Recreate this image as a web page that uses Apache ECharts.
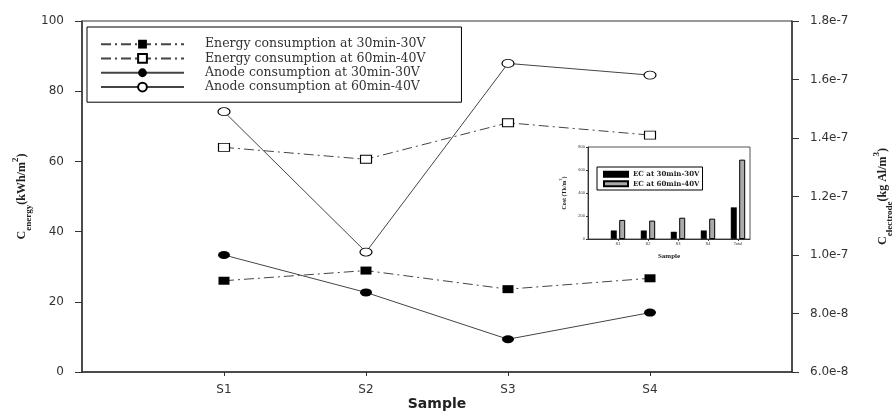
<!DOCTYPE html>
<html>
  <head>
    <meta charset="utf-8">
    <script src="https://cdn.jsdelivr.net/npm/echarts@6.0.0/dist/echarts.min.js"></script>
    <style>
      html, body { margin: 0; padding: 0; background: #fff; }
      #chart { width: 893px; height: 413px; }
    </style>
  </head>
  <body>
    <div id="chart"></div>
    <script>
      // main chart data
      const categories = ['S1', 'S2', 'S3', 'S4'];
      const energy30 = [26.0, 28.9, 23.6, 26.7];      // kWh/m2, left axis
      const energy60 = [64.0, 60.6, 71.0, 67.5];
      const anode30 = [1.00e-7, 8.72e-8, 7.12e-8, 8.03e-8]; // kg Al/m3, right axis
      const anode60 = [1.49e-7, 1.01e-7, 1.655e-7, 1.615e-7];
      // inset bar chart data
      const insetCats = ['S1', 'S2', 'S3', 'S4', 'Total'];
      const ec30 = [74, 74, 63, 74, 275];
      const ec60 = [166, 160, 185, 177, 690];

      const names = [
        'Energy consumption at 30min-30V',
        'Energy consumption at 60min-40V',
        'Anode consumption at 30min-30V',
        'Anode consumption at 60min-40V'
      ];
      const pos = arr => arr.map((v, i) => [i + 1, v]);
      const dashDot = [10, 4, 2, 4];
      const axisColor = '#333';
      const labelFont = { color: '#333', fontFamily: 'DejaVu Sans', fontSize: 12 };
      const serifBold = { fontFamily: 'Liberation Serif', fontWeight: 'bold', color: '#222' };

      const chart = echarts.init(document.getElementById('chart'));
      chart.setOption({
        animation: false,
        grid: [
          { left: 82, right: 101, top: 21, bottom: 41, containLabel: false, outerBoundsMode: 'none',
            show: true, borderColor: axisColor, borderWidth: 1 },
          { left: 588, right: 143, top: 147, bottom: 174, containLabel: false, outerBoundsMode: 'none',
            show: true, borderColor: '#555', borderWidth: 1 }
        ],
        legend: [{
          data: names,
          orient: 'vertical',
          left: 87,
          top: 27,
          padding: [10, 36, 8, 13],
          itemGap: 0,
          itemWidth: 83,
          itemHeight: 11,
          borderColor: '#000',
          borderWidth: 1,
          textStyle: { fontFamily: 'DejaVu Serif', fontSize: 12.5, color: '#333', lineHeight: 14.3, padding: [0, 0, 0, 16] }
        }, {
          data: ['EC at 30min-30V', 'EC at 60min-40V'],
          orient: 'vertical',
          left: 597,
          top: 167,
          padding: [3, 3, 2, 6],
          itemGap: 1,
          itemWidth: 24,
          itemHeight: 5,
          icon: 'rect',
          borderColor: '#000',
          borderWidth: 1,
          textStyle: { fontFamily: 'DejaVu Serif', fontWeight: 'bold', color: '#222', fontSize: 7, lineHeight: 8.5 }
        }],
        xAxis: [{
          gridIndex: 0,
          type: 'value',
          min: 0,
          max: 5,
          splitLine: { show: false },
          axisLine: { lineStyle: { color: axisColor, width: 1.5 } },
          axisTick: { customValues: [1, 2, 3, 4], length: 4, lineStyle: { color: axisColor } },
          axisLabel: Object.assign({}, labelFont, {
            customValues: [1, 2, 3, 4],
            margin: 12,
            formatter: v => categories[Math.round(v) - 1] || ''
          }),
          name: 'Sample',
          nameLocation: 'middle',
          nameMoveOverlap: false,
          nameGap: 25,
          nameTextStyle: { fontFamily: 'DejaVu Sans', fontWeight: 'bold', fontSize: 14, color: '#222' }
        }, {
          gridIndex: 1,
          type: 'value',
          min: 0,
          max: 5.4,
          splitLine: { show: false },
          axisLine: { lineStyle: { color: '#333', width: 1 } },
          axisTick: { customValues: [1, 2, 3, 4, 5], length: 2, lineStyle: { color: '#333' } },
          axisLabel: {
            customValues: [1, 2, 3, 4, 5],
            fontSize: 4,
            color: '#333',
            margin: 3,
            formatter: v => insetCats[Math.round(v) - 1] || ''
          },
          name: 'Sample',
          nameLocation: 'middle',
          nameMoveOverlap: false,
          nameGap: 14,
          nameTextStyle: Object.assign({}, serifBold, { fontSize: 7 })
        }],
        yAxis: [{
          gridIndex: 0,
          type: 'value',
          min: 0,
          max: 100,
          interval: 20,
          splitLine: { show: false },
          axisLine: { show: true, lineStyle: { color: axisColor, width: 1.5 } },
          axisTick: { show: true, length: 7, lineStyle: { color: axisColor } },
          axisLabel: Object.assign({}, labelFont, { margin: 18 }),
          name: '{c|C}{sub|energy}{c|(kWh/m}{sup|2}{c|)}',
          nameLocation: 'middle',
          nameMoveOverlap: false,
          nameRotate: 90,
          nameGap: 49,
          nameTextStyle: {
            rich: {
              c: Object.assign({}, serifBold, { fontSize: 12, lineHeight: 22, verticalAlign: 'middle' }),
              sub: Object.assign({}, serifBold, { fontSize: 9, lineHeight: 22, verticalAlign: 'bottom' }),
              sup: Object.assign({}, serifBold, { fontSize: 9, lineHeight: 22, verticalAlign: 'top' })
            }
          }
        }, {
          gridIndex: 0,
          type: 'value',
          position: 'right',
          min: 6e-8,
          max: 1.8e-7,
          interval: 2e-8,
          splitLine: { show: false },
          axisLine: { show: true, lineStyle: { color: axisColor, width: 1.5 } },
          axisTick: { show: true, length: 7, lineStyle: { color: axisColor } },
          axisLabel: Object.assign({}, labelFont, { margin: 18, formatter: v => v.toExponential(1) }),
          name: '{c|C}{sub|electrode}{c|(kg Al/m}{sup|3}{c|)}',
          nameLocation: 'middle',
          nameMoveOverlap: false,
          nameRotate: 90,
          nameGap: 80,
          nameTextStyle: {
            rich: {
              c: Object.assign({}, serifBold, { fontSize: 12, lineHeight: 22, verticalAlign: 'middle' }),
              sub: Object.assign({}, serifBold, { fontSize: 9, lineHeight: 22, verticalAlign: 'bottom' }),
              sup: Object.assign({}, serifBold, { fontSize: 9, lineHeight: 22, verticalAlign: 'top' })
            }
          }
        }, {
          gridIndex: 1,
          type: 'value',
          min: 0,
          max: 800,
          interval: 200,
          splitLine: { show: false },
          axisLine: { show: true, lineStyle: { color: '#333', width: 1 } },
          axisTick: { show: true, length: 2, lineStyle: { color: '#333' } },
          axisLabel: { fontSize: 4, color: '#333', margin: 3 },
          name: '{c|Cost (Tk/m}{s|3}{c|)}',
          nameLocation: 'middle',
          nameMoveOverlap: false,
          nameRotate: 90,
          nameGap: 19,
          nameTextStyle: {
            rich: {
              c: Object.assign({}, serifBold, { fontSize: 6, lineHeight: 10, verticalAlign: 'middle' }),
              s: Object.assign({}, serifBold, { fontSize: 4, lineHeight: 10, verticalAlign: 'top' })
            }
          }
        }],
        series: [{
          name: names[0],
          type: 'line',
          xAxisIndex: 0, yAxisIndex: 0,
          data: pos(energy30),
          symbol: 'rect',
          symbolSize: [11, 8],
          itemStyle: { color: '#000' },
          lineStyle: { color: '#444', width: 1, type: dashDot }
        }, {
          name: names[1],
          type: 'line',
          xAxisIndex: 0, yAxisIndex: 0,
          data: pos(energy60),
          symbol: 'rect',
          symbolSize: [11, 8],
          itemStyle: { color: '#fff', borderColor: '#000', borderWidth: 1 },
          lineStyle: { color: '#444', width: 1, type: dashDot }
        }, {
          name: names[2],
          type: 'line',
          xAxisIndex: 0, yAxisIndex: 1,
          data: pos(anode30),
          symbol: 'circle',
          symbolSize: [12, 8],
          itemStyle: { color: '#000' },
          lineStyle: { color: '#444', width: 1 }
        }, {
          name: names[3],
          type: 'line',
          xAxisIndex: 0, yAxisIndex: 1,
          data: pos(anode60),
          symbol: 'circle',
          symbolSize: [12, 8],
          itemStyle: { color: '#fff', borderColor: '#000', borderWidth: 1 },
          lineStyle: { color: '#444', width: 1 }
        }, {
          name: 'EC at 30min-30V',
          type: 'bar',
          xAxisIndex: 1, yAxisIndex: 2,
          data: pos(ec30),
          barWidth: 6,
          barGap: '40%',
          itemStyle: { color: '#000', borderColor: '#000', borderWidth: 0.5 }
        }, {
          name: 'EC at 60min-40V',
          type: 'bar',
          xAxisIndex: 1, yAxisIndex: 2,
          data: pos(ec60),
          barWidth: 6,
          itemStyle: { color: '#aaa', borderColor: '#000', borderWidth: 1 }
        }]
      });
    </script>
  </body>
</html>
